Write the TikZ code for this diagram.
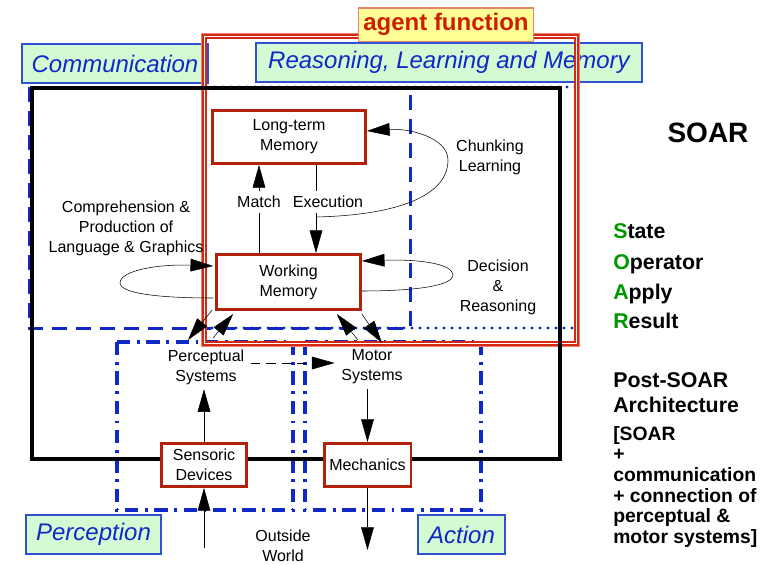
\documentclass[tikz,border=0pt]{standalone}
\usepackage{fontspec}
\setmainfont{Liberation Sans}
\usetikzlibrary{arrows.meta}
\usetikzlibrary{calc}
\definecolor{memred}{RGB}{178,34,10}
\definecolor{areablue}{RGB}{16,40,200}
\definecolor{areaborder}{RGB}{50,80,210}
\definecolor{areagreen}{RGB}{212,250,212}
\definecolor{agentred}{RGB}{215,40,20}
\definecolor{agentpink}{RGB}{235,130,110}
\definecolor{agentyellow}{RGB}{255,255,150}
\definecolor{agenttext}{RGB}{205,30,0}
\definecolor{soargreen}{RGB}{0,150,0}

\begin{document}
\begin{tikzpicture}[x=0.75pt,y=0.75pt,yscale=-1,xscale=1,
  >={Triangle[length=17pt,width=9.5pt]},
  mem/.style={draw=memred,line width=2pt,fill=white,align=center,font=\fontsize{12}{15}\selectfont},
  txt/.style={align=center,font=\fontsize{12}{15}\selectfont},
  area/.style={draw=areaborder,line width=1.1pt,fill=areagreen,text=areablue,inner sep=2pt,font=\itshape\fontsize{18}{20}\selectfont},
  commline/.style={draw=areablue,line width=2.25pt,dash pattern=on 11pt off 7pt},
  reasline/.style={draw=areablue,line width=2.4pt,line cap=round,dash pattern=on 0pt off 6pt},
  sideline/.style={draw=areablue,line width=2.4pt,dash pattern=on 10pt off 5pt on 2pt off 5pt},
  bold/.style={anchor=base west,inner sep=0pt}]
\useasboundingbox (0,0) rectangle (771,564);

%Regions
\draw[commline] (29,87) rectangle (410,328);
\draw[reasline] (205,87) rectangle (577,328);
\draw[sideline] (117,342) rectangle (293,510);
\draw[sideline] (305,342) rectangle (481,510);

% Region labels
\node[area,minimum width=139.5pt,minimum height=29pt] (comm) at (115,63.5) {Communication};
\node[area,minimum width=289.5pt,minimum height=29pt] (reas) at (449,62.5) {Reasoning, Learning and Memory};
\node[area,minimum width=101pt,minimum height=29pt] (perception) at (93.5,534.5) {Perception};
\node[area,minimum width=65pt,minimum height=29pt] (action) at (461.5,534.5) {Action};

%Agent frame
\draw[agentpink,line width=1.1pt] (201.5,33.5) rectangle (579.5,346.5);
\draw[agentred,double=white,double distance=0.9pt,line width=1.1pt] (204.5,36.5) rectangle (576.5,343.5);

%Outer box
\draw[line width=2.6pt] (32,88) rectangle (560,459);

% Memory and device boxes
\node[mem,minimum width=115pt,minimum height=40pt] (ltm) at (289,137) {Long-term\\Memory};
\node[mem,minimum width=108pt,minimum height=41.5pt] (wm) at (288.5,282) {Working\\Memory};
\node[mem,minimum width=64pt,minimum height=32.5pt] (sens) at (204,465) {Sensoric\\Devices};
\node[mem,minimum width=65pt,minimum height=32.5pt] (mech) at (367.5,465) {Mechanics};

\node[draw=agentpink,fill=agentyellow,line width=1pt,text=agenttext,inner sep=2pt,minimum width=131pt,minimum height=25pt,font=\bfseries\fontsize{18}{20}\selectfont] (agent) at (446,24.5) {agent function};

% Text nodes
\node[txt] (match) at (259,202) {Match};
\node[txt] (exec) at (328,202) {Execution};
\node[txt] (chunk) at (490,157) {Chunking\\Learning};
\node[txt] (decide) at (498,287) {Decision\\\&\\Reasoning};
\node[txt] (compre) at (126,228) {Comprehension \&\\Production of\\Language \& Graphics};
\node[txt] (perc) at (206,367) {Perceptual\\Systems};
\node[txt] (motor) at (372,367) {Motor\\Systems};
\node[txt] (outside) at (283,546) {Outside\\World};

\coordinate (ex) at (316,217);
\coordinate (p1) at (188,340);
\coordinate (p2) at (213,338);
\coordinate (m1) at (358,340);
\coordinate (m2) at (382,343);
\coordinate (world) at (204,548);
\coordinate (down) at (367.5,550);

%Connectors
\draw (wm.north -| match.south) -- (match.south);
\draw[->] (match.north) -- (ltm.south -| match.north);
\draw (ltm.south -| ex) -- (ex |- exec.north);
\draw[->] (ex |- exec.south) -- (ex |- wm.north);
\draw[->] (ex) .. controls (400,215) and (448,195) .. (448,160) .. controls (448,138) and (410,128) .. ($(ltm.east)+(0,-6)$);
\draw[->] ($(wm.east)+(0,9)$) .. controls (420,291) and (453,285) .. (453,275) .. controls (453,264) and (420,259) .. ($(wm.east)+(0,-21)$);
\draw[->] ($(wm.west)+(-2,16)$) .. controls (150,298) and (120,292) .. (120,283) .. controls (120,270) and (160,264) .. ($(wm.west)+(-2,-16)$);
\draw[->] ($(wm.south west)+(-3,-1)$) -- (p1);
\draw[->] (p2) -- ($(wm.south west)+(18,3)$);
\draw[->] (m1) -- ($(wm.south east)+(-25,3)$);
\draw[->] ($(wm.south east)+(0,3)$) -- (m2);
\draw[->,dash pattern=on 7pt off 4.5pt] ($(perc.east)+(2,-4)$) -- ($(motor.west)+(-2,-4)$);
\draw[->] (sens.north) -- (sens.north |- perc.south);
\draw[->] (world) -- (sens.south);
\draw[->] (mech.north |- motor.south) -- (mech.north);
\draw[->] (mech.south) -- (down);

% Right column
\node[font=\bfseries\fontsize{21}{24}\selectfont] (soar) at (708,133) {SOAR};
\node[bold,font=\bfseries\fontsize{16}{19}\selectfont] (state) at (613,238) {\textcolor{soargreen}{S}tate};
\node[bold,font=\bfseries\fontsize{16}{19}\selectfont] (operator) at (613,269) {\textcolor{soargreen}{O}perator};
\node[bold,font=\bfseries\fontsize{16}{19}\selectfont] (apply) at (613,299) {\textcolor{soargreen}{A}pply};
\node[bold,font=\bfseries\fontsize{16}{19}\selectfont] (result) at (613,328) {\textcolor{soargreen}{R}esult};
\node[bold,font=\bfseries\fontsize{16}{18}\selectfont] (post) at (613,387) {Post-SOAR};
\node[bold,font=\bfseries\fontsize{16}{18}\selectfont] (arch) at (613,412) {Architecture};
\node[anchor=north west,inner sep=0pt,align=left,font=\bfseries\fontsize{14.5}{15.5}\selectfont] (bracket) at (613,426) {[SOAR\\+\\communication\\+ connection of\\perceptual \&\\motor systems]};

\end{tikzpicture}
\end{document}
